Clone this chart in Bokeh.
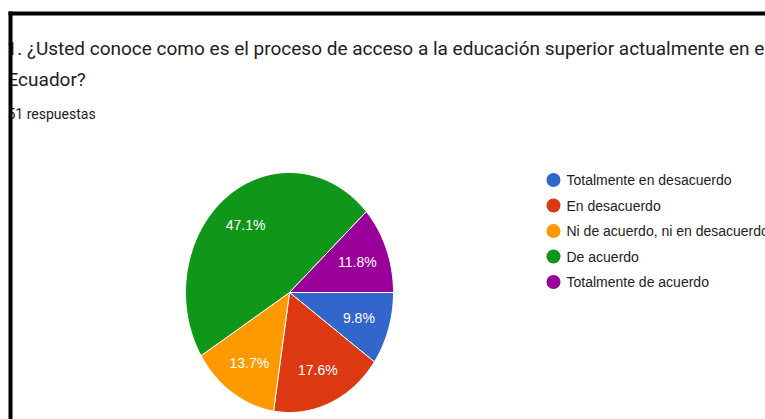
import numpy as np
from bokeh.plotting import figure
from bokeh.models import Range1d, Label, BoxAnnotation
from bokeh.embed import file_html
from bokeh.resources import INLINE

# ---- data ----
categories = ["Totalmente en desacuerdo", "En desacuerdo",
              "Ni de acuerdo, ni en desacuerdo", "De acuerdo",
              "Totalmente de acuerdo"]
counts = [5, 9, 7, 24, 6]
colors = ["#3366CC", "#DC3912", "#FF9900", "#109618", "#990099"]
title_lines = ["1. ¿Usted conoce como es el proceso de acceso a la educación superior actualmente en el",
               "Ecuador?"]
subtitle = "51 respuestas"

# ---- layout (page pixels) ----
W, H = 765, 419
OFF = 0
CX, CY = 289, 292      # pie centre in page pixels
RX, RY = 104, 120      # pie radii in pixels (screenshot is stretched)

def px(x):
    return (x - CX) / RX

def py(y):
    return -(y - CY) / RY

p = figure(width=W, height=H, output_backend="svg", toolbar_location=None,
           x_range=Range1d(px(OFF), px(OFF + W)), y_range=Range1d(py(OFF + H), py(OFF)),
           min_border=0, outline_line_color=None)
p.axis.visible = False
p.grid.visible = False
p.background_fill_color = "white"
p.border_fill_color = "white"

# ---- pie (unit circle in data space -> ellipse on screen) ----
total = sum(counts)
fracs = [c / total for c in counts]
xs, ys, lx, ly = [], [], [], []
start = 0.0
for f in fracs:
    end = start - 2 * np.pi * f
    t = np.linspace(start, end, max(int(abs(end - start) * 60), 4))
    xs.append(np.concatenate([[0.0], np.cos(t), [0.0]]).tolist())
    ys.append(np.concatenate([[0.0], np.sin(t), [0.0]]).tolist())
    mid = (start + end) / 2
    lx.append(0.70 * np.cos(mid))
    ly.append(0.70 * np.sin(mid))
    start = end

p.patches(xs, ys, fill_color=colors, line_color="white", line_width=1)

for f, x, y in zip(fracs, lx, ly):
    p.add_layout(Label(x=x, y=y, text=f"{f*100:.1f}%", text_color="white",
                       text_font="Liberation Sans", text_font_size="14px",
                       text_align="center", text_baseline="middle"))

# ---- legend ----
leg_x = 553
leg_y0 = 179.5
leg_dy = 25.5
leg_xs = [px(leg_x)] * len(categories)
leg_ys = [py(leg_y0 + i * leg_dy) for i in range(len(categories))]
p.scatter(leg_xs, leg_ys, marker="circle", size=14, fill_color=colors, line_color=None)
for i, c in enumerate(categories):
    p.add_layout(Label(x=px(566), y=py(leg_y0 + i * leg_dy), text=c,
                       text_color="#222222", text_font="Liberation Sans",
                       text_font_size="14px", text_baseline="middle"))

# ---- title ----
p.add_layout(Label(x=px(6), y=py(48), text=title_lines[0], text_color="#202124",
                   text_font="Roboto", text_font_size="19px", text_baseline="alphabetic"))
p.add_layout(Label(x=px(7), y=py(79), text=title_lines[1], text_color="#202124",
                   text_font="Roboto", text_font_size="19px", text_baseline="alphabetic"))
p.add_layout(Label(x=px(7), y=py(113), text=subtitle, text_color="#202124",
                   text_font="Roboto", text_font_size="14px", text_baseline="alphabetic"))

# ---- page margin mask and black frame lines (drawn on top) ----
p.add_layout(BoxAnnotation(left=px(-5), right=px(8), top=py(-5), bottom=py(430),
                           fill_color="white", fill_alpha=1, line_color=None, level="overlay"))
p.add_layout(BoxAnnotation(left=px(8), right=px(12), top=py(11), bottom=py(430),
                           fill_color="black", fill_alpha=1, line_color=None, level="overlay"))
p.add_layout(BoxAnnotation(left=px(8), right=px(770), top=py(11), bottom=py(15),
                           fill_color="black", fill_alpha=1, line_color=None, level="overlay"))

open("out.html", "w").write(file_html(p, INLINE))
